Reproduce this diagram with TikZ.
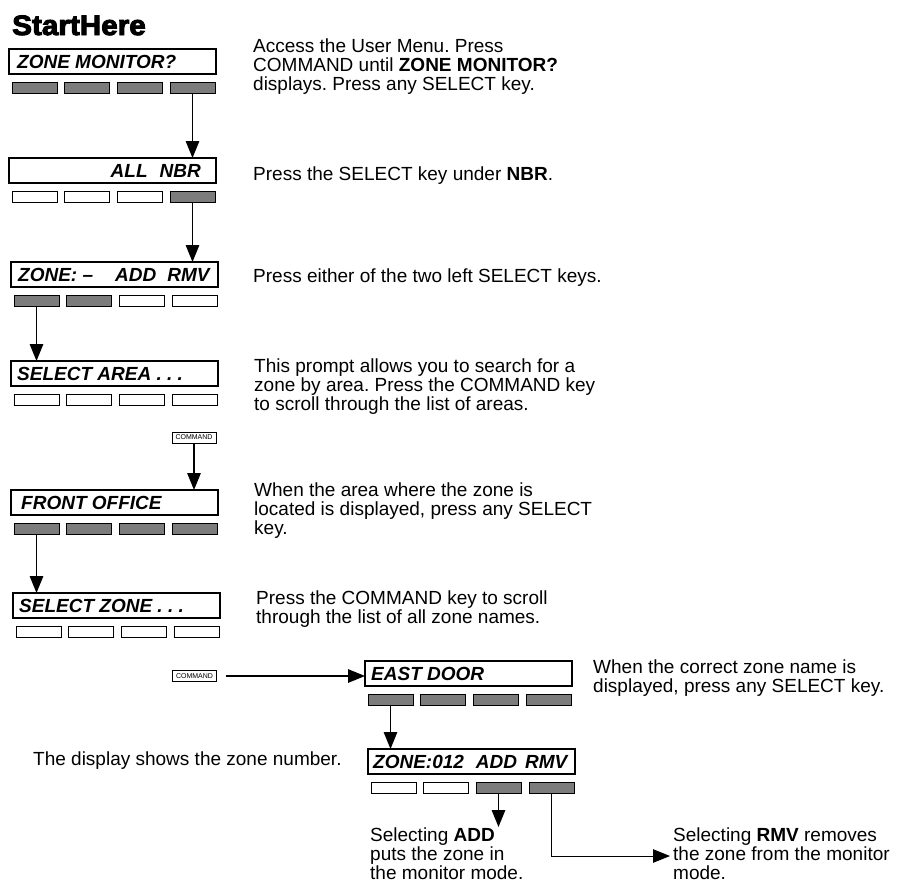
\documentclass[tikz,border=0pt]{standalone}
\usepackage{fontspec}
\setmainfont{Liberation Sans}
\newfontfamily\shfont{Liberation Sans}[BoldFeatures={FakeBold=3.5,FakeStretch=1.06}]
\usetikzlibrary{arrows.meta,calc}
\definecolor{keygray}{HTML}{7C7C7C}
\frenchspacing
\tikzset{
  disp/.style={draw, line width=1.3pt, minimum width=207pt, minimum height=25pt, inner sep=0pt, outer sep=0pt, anchor=north west, fill=white},
  key/.style={draw, line width=0.9pt, minimum width=45pt, minimum height=11pt, inner sep=0pt, outer sep=0pt, anchor=north west},
  dtext/.style={font=\fontsize{19}{19}\selectfont\bfseries\itshape, inner sep=0pt, anchor=base west},
  desc/.style={font=\fontsize{19}{19}\selectfont, inner sep=0pt, anchor=base west, align=left},
  arr/.style={-{Triangle[length=17pt,width=13.5pt]}, line width=1.4pt},
  cmd/.style={draw, line width=0.8pt, minimum width=44pt, minimum height=11pt, inner sep=0pt, outer sep=0pt, fill=white, font=\fontsize{7}{7}\selectfont},
  title/.style={font=\shfont\fontsize{28}{28}\bfseries\selectfont, inner sep=0pt, anchor=base west}
}
\newcommand\dispunit[7]{%
  \node[disp] (#1) at (#2,#3) {};
  \node[key,fill=#4] (#1k1) at (#2+3,#3+33) {};
  \node[key,fill=#5] (#1k2) at (#2+55,#3+33) {};
  \node[key,fill=#6] (#1k3) at (#2+108,#3+33) {};
  \node[key,fill=#7] (#1k4) at (#2+161,#3+33) {};
}
\begin{document}
\begin{tikzpicture}[x=1pt,y=-1pt]
\fill[white] (0,0) rectangle (901,884);
\useasboundingbox (0,0) rectangle (901,884);

\node[title] (title) at (12,35) {StartHere};

\dispunit{d1}{9}{49}{keygray}{keygray}{keygray}{keygray}
\dispunit{d2}{9}{158}{white}{white}{white}{keygray}
\dispunit{d3}{11}{262}{keygray}{keygray}{white}{white}
\dispunit{d4}{11}{361}{white}{white}{white}{white}
\dispunit{d5}{11}{490}{keygray}{keygray}{keygray}{keygray}
\dispunit{d6}{13}{593}{white}{white}{white}{white}
\dispunit{d7}{365}{661}{keygray}{keygray}{keygray}{keygray}
\dispunit{d8}{368}{749}{white}{white}{keygray}{keygray}

\node[dtext] (t1) at ($(d1.north west)+(8,19)$) {ZONE MONITOR?};
\node[dtext, anchor=base east] (t2) at ($(d2.north west)+(192,19)$) {ALL\hspace{12pt}NBR};
\node[dtext] (t3) at ($(d3.north west)+(7,19)$) {ZONE: –\hspace{22pt}ADD\hspace{11pt}RMV};
\node[dtext] (t4) at ($(d4.north west)+(6,19)$) {SELECT AREA . . .};
\node[dtext] (t5) at ($(d5.north west)+(10,19)$) {FRONT OFFICE};
\node[dtext] (t6) at ($(d6.north west)+(6,19)$) {SELECT ZONE . . .};
\node[dtext] (t7) at ($(d7.north west)+(6,19)$) {EAST DOOR};
\node[dtext] (t8) at ($(d8.north west)+(5,19)$) {ZONE:012\hspace{12pt}ADD\hspace{8pt}RMV};

\node[cmd] (cmd1) at (194,437.5) {COMMAND};
\node[cmd] (cmd2) at (194.5,676) {COMMAND};

\node[desc] (s1) at (253,90) {Access the User Menu. Press\\COMMAND until \textbf{ZONE MONITOR?}\\displays. Press any SELECT key.};
\node[desc] (s2) at (253,180) {Press the SELECT key under \textbf{NBR}.};
\node[desc] (s3) at (253,282) {Press either of the two left SELECT keys.};
\node[desc] (s4) at (254,410) {This prompt allows you to search for a\\zone by area. Press the COMMAND key\\to scroll through the list of areas.};
\node[desc] (s5) at (254,534) {When the area where the zone is\\located is displayed, press any SELECT\\key.};
\node[desc] (s6) at (256,623) {Press the COMMAND key to scroll\\through the list of all zone names.};
\node[desc] (s7) at (593,692) {When the correct zone name is\\displayed, press any SELECT key.};
\node[desc] (s8) at (33,765) {The display shows the zone number.};
\node[desc] (s9) at (370,879) {Selecting \textbf{ADD}\\puts the zone in\\the monitor mode.};
\node[desc] (s10) at (673,879) {Selecting \textbf{RMV} removes\\the zone from the monitor\\mode.};

\draw[arr] (d1k4.south) -- (d1k4.south |- d2.north);
\draw[arr] (d2k4.south) -- (d2k4.south |- d3.north);
\draw[arr] (d3k1.south) -- (d3k1.south |- d4.north);
\draw[arr] (cmd1.south) -- (cmd1.south |- d5.north);
\draw[arr] (d5k1.south) -- (d5k1.south |- d6.north);
\draw[arr, shorten <=9pt] (cmd2.east) -- (cmd2.east -| d7.west);
\draw[arr] (d7k1.south) -- (d7k1.south |- d8.north);
\path (d8k3.south) ++(0,34) coordinate (addend);
\coordinate (rmvend) at (670,856);
\draw[arr] (d8k3.south) -- (addend);
\draw[arr, line width=1pt] (d8k4.south) |- (rmvend);
\end{tikzpicture}
\end{document}
